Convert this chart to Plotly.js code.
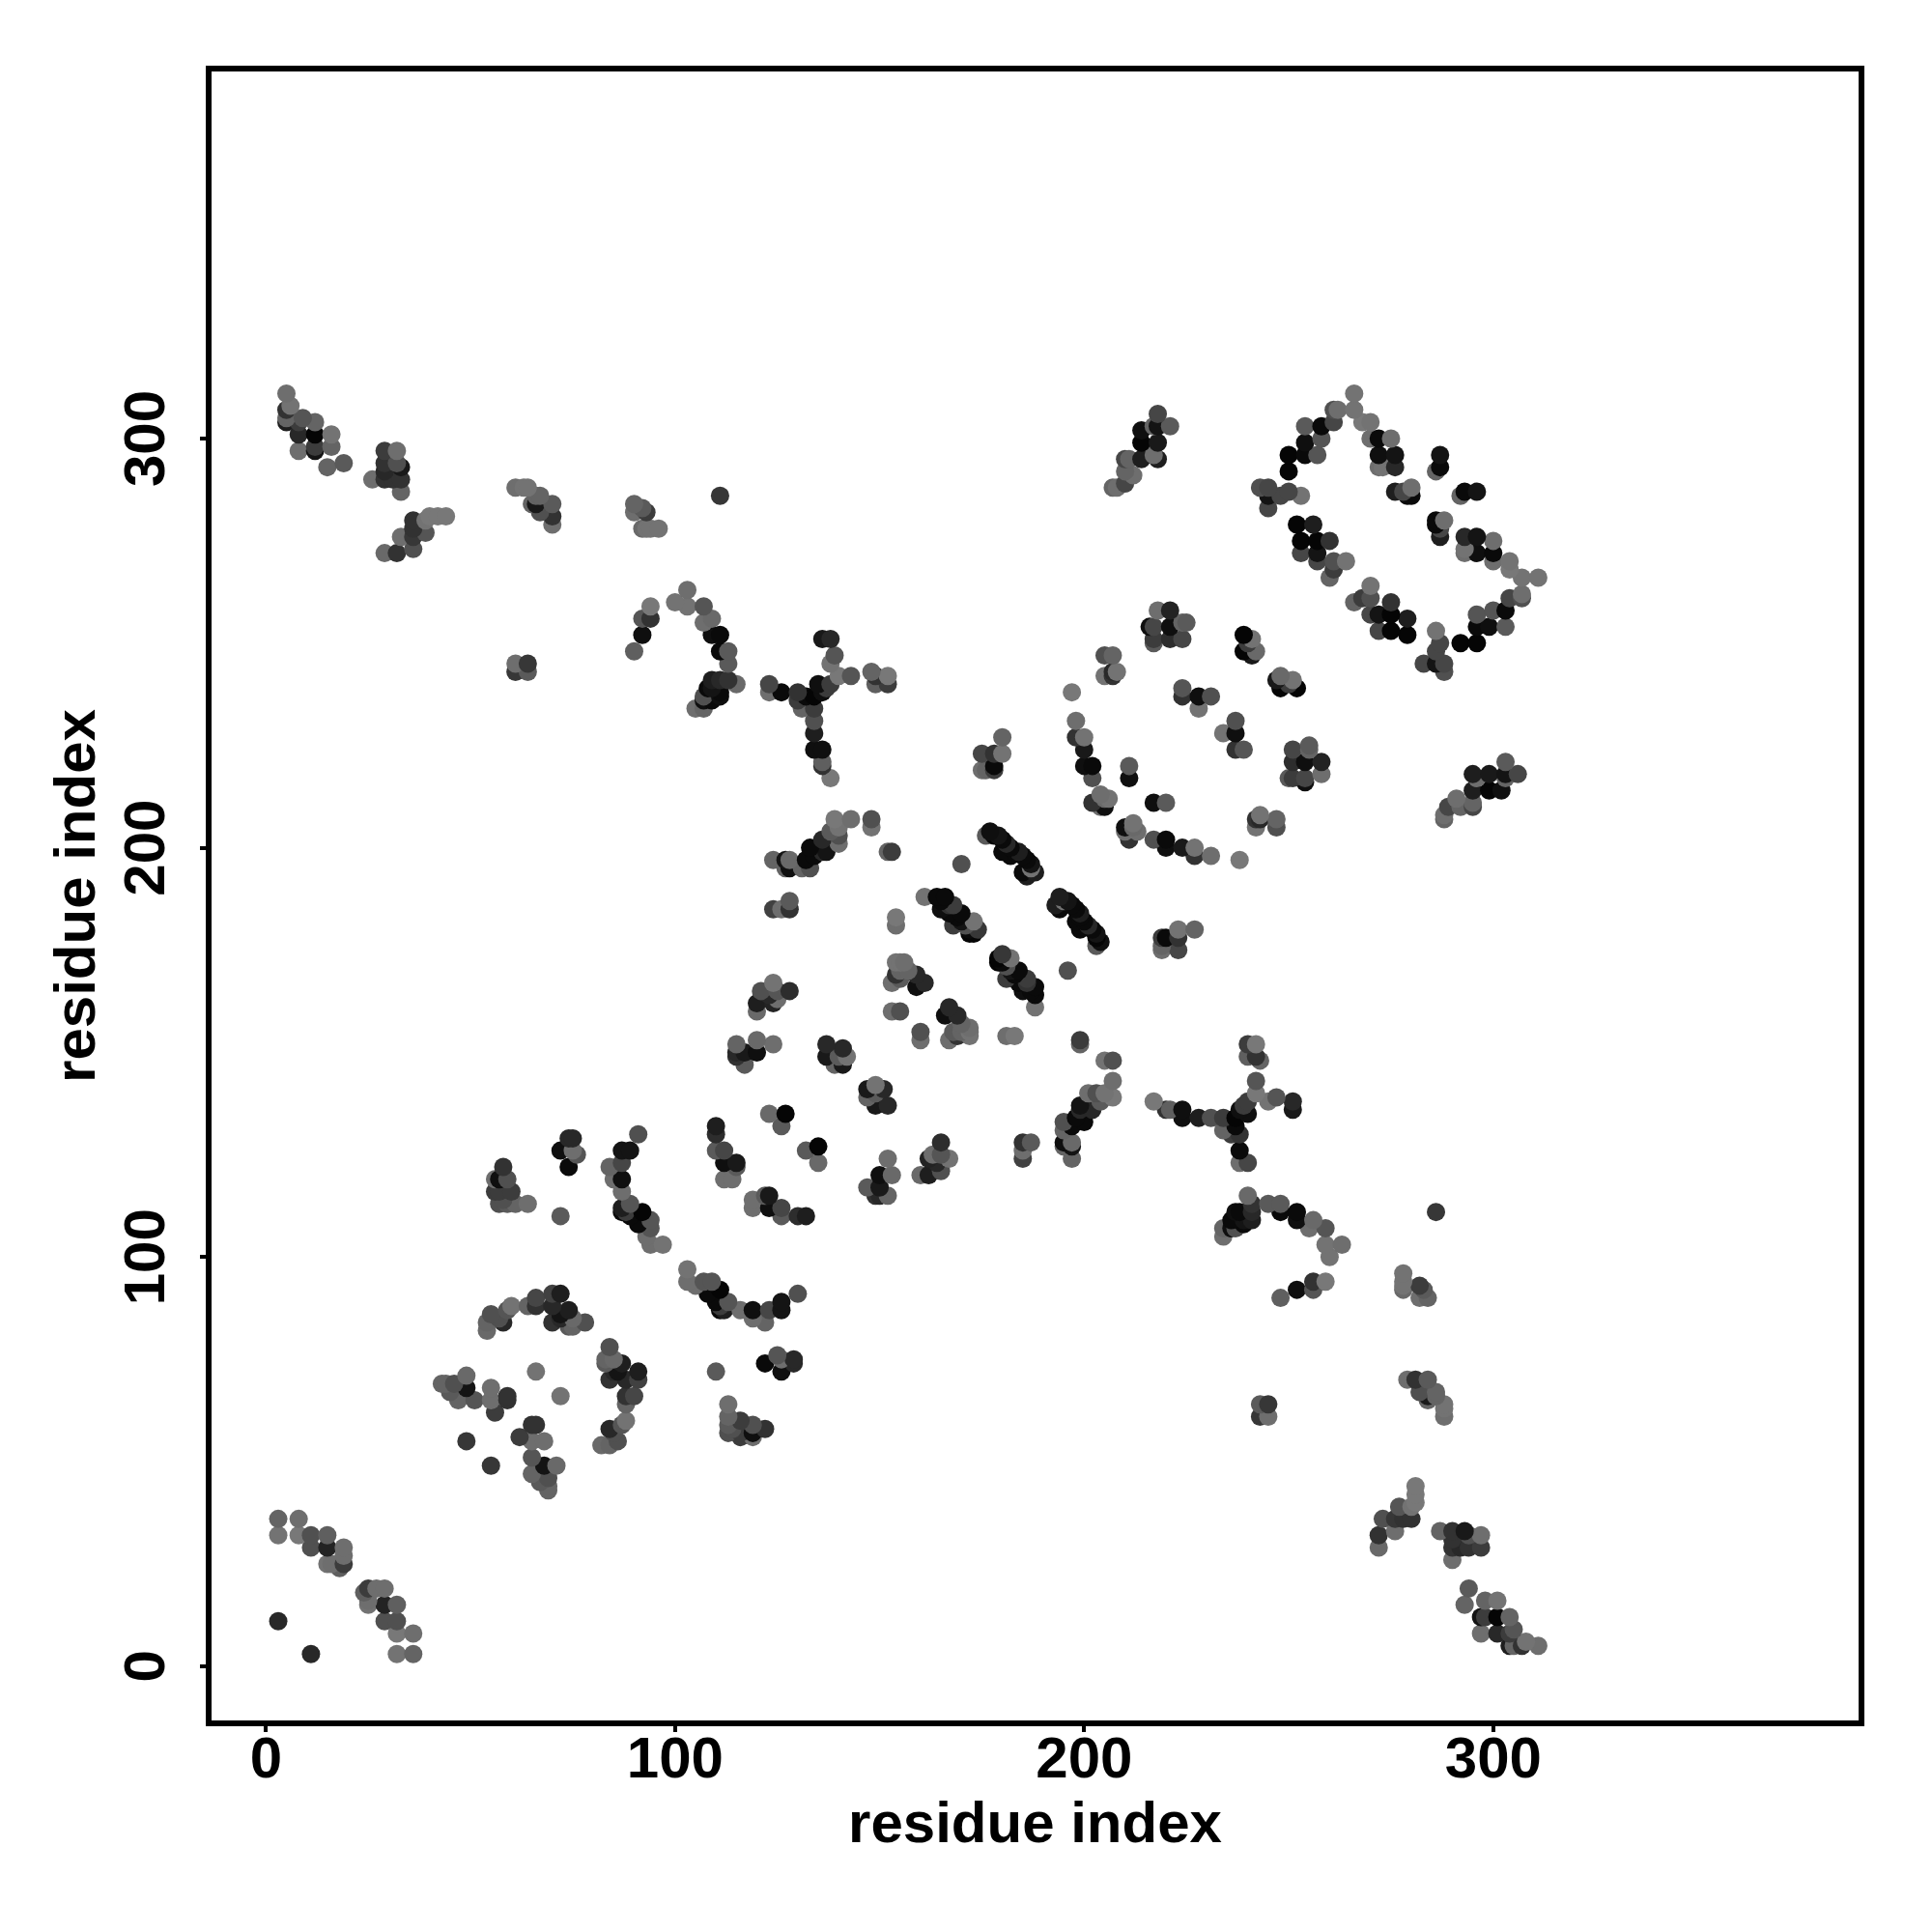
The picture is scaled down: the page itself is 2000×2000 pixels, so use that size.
<!DOCTYPE html>
<html><head><meta charset="utf-8">
<script src="https://cdn.plot.ly/plotly-3.0.1.min.js"></script>
<style>html,body{margin:0;padding:0;background:#fff}#c{width:2000px;height:2000px}</style>
</head><body><div id="c"></div>
<script>
// Symmetric contact map: each contact is read once as [i, j, grey], i < j, and drawn at (i,j) and (j,i).
const clusterTermini = [[3,36,100],[8,36,110],[3,32,115],[8,32,120],[11,32,80],[11,29,80],[15,32,95],[15,29,35],[19,29,110],[16,25,110],[15,25,115],[19,27,110],[18,24,95],[19,25,60],[3,11,40]];
const clusterA = [[5,311,110],[5,307,50],[5,304,30],[5,305,100],[6,308,115],[9,305,85],[8,304,60],[12,304,100],[8,301,40],[12,301,5],[8,297,110],[12,298,60],[12,297,20],[16,301,115],[16,298,100],[15,293,100],[19,294,90]];
const clusterB = [[29,297,60],[32,297,110],[29,294,50],[29,292,40],[29,290,50],[26,290,110],[32,294,80],[33,293,25],[31,290,50],[33,290,50],[33,287,100]];
const clusterC = [[29,272,105],[32,272,50],[33,276,110],[36,280,50],[36,278,50],[36,276,55],[36,273,80],[39,277,85],[39,280,115],[40,281,120],[42,281,120],[44,281,120]];
const clusterD = [[61,288,110],[63,288,115],[64,288,115],[65,284,100],[66,284,25],[66,286,100],[67,286,100],[67,282,80],[70,281,50],[70,284,90],[70,279,110]];
const clusterE = [[90,284,100],[90,282,110],[92,283,90],[93,282,60],[92,278,105],[93,278,115],[94,278,115],[96,278,115],[111,286,55],[61,245,110],[61,243,55],[64,243,90],[64,245,55]];
const arcF = [[94,259,120],[92,256,85],[94,256,50],[92,252,15],[90,248,95],[100,260,115],[103,263,110],[103,259,115],[107,259,85],[107,255,110],[109,256,105],[109,252,15],[111,252,10],[111,248,10],[113,248,90],[113,245,90],[113,241,50],[111,241,40],[109,241,30],[108,239,10],[109,239,20],[111,238,10],[111,237,15],[109,236,10],[107,236,15],[107,237,80],[105,234,110],[107,234,100],[115,240,105]];
const tShape = [[136,251,25],[138,251,40],[139,247,85],[138,245,115],[138,240,60],[140,242,120],[143,242,85],[148,243,100],[149,242,50],[152,242,120],[149,240,95],[152,240,60],[123,240,70],[123,238,110],[126,238,10],[130,238,50],[130,236,60],[132,237,10],[134,237,5],[136,238,15],[135,240,15],[137,239,60],[131,234,100],[134,234,60],[134,231,80],[134,228,30],[134,224,15],[136,224,15],[136,220,50],[136,221,95],[138,217,120]];
const clusterG = [[124,197,100],[127,195,100],[127,197,20],[128,195,15],[128,197,105],[131,195,100],[133,195,80],[132,197,10],[134,198,10],[133,200,10],[136,199,40],[136,202,40],[137,199,20],[138,204,90],[140,203,80],[140,201,110],[140,205,115],[139,207,120],[143,207,110],[148,205,115],[148,207,80],[152,199,100],[153,199,60],[124,185,65],[126,185,110],[128,185,50],[128,187,90],[154,183,120],[154,181,110],[170,196,80],[161,188,115]];
const barA = [[176,203,90],[177,204,15],[178,203,5],[179,203,20],[180,202,10],[181,201,40],[180,199,10],[182,200,10],[182,198,10],[183,199,10],[184,199,30],[185,198,10],[185,194,10],[186,197,10],[186,193,30],[187,196,20],[188,194,30],[187,195,115]];
const barB = [[164,188,10],[165,187,10],[166,188,10],[165,185,15],[167,184,10],[167,186,50],[168,186,60],[169,183,10],[170,184,10],[170,182,20],[168,181,60],[171,181,80],[172,180,10],[172,179,5],[173,179,5],[173,182,115],[174,180,55]];
const clusterH = [[205,247,80],[207,247,100],[205,242,115],[207,243,40],[207,242,50],[208,243,115],[197,238,120],[198,231,110],[198,227,50],[200,227,115],[200,224,25],[200,220,15],[202,220,10],[202,217,80],[202,211,50],[205,210,15],[204,210,110],[204,213,110],[205,212,105],[206,212,115],[175,223,70],[178,223,50],[180,223,115],[180,227,100],[175,219,110],[176,219,100],[178,219,60],[178,220,10]];
const clusterI = [[218,306,70],[217,303,100],[218,303,20],[221,303,90],[214,302,15],[214,299,5],[218,299,25],[214,295,30],[218,295,30],[217,296,110],[210,295,70],[211,295,100],[210,292,100],[212,291,110],[210,289,70],[207,288,100],[208,288,110]];
const ringOuter = [[266,311,115],[266,307,115],[261,307,80],[262,307,110],[261,304,70],[258,303,10],[254,303,90],[258,300,85],[254,299,15],[257,296,85],[254,296,10],[250,296,5],[250,292,5],[268,304,120],[270,304,115],[270,300,110],[272,300,10],[275,300,110],[272,296,15],[276,296,20],[272,293,110],[273,293,115],[276,293,40],[287,296,20],[286,292,100],[287,293,10],[243,288,80],[245,288,70],[245,286,20],[245,283,70],[248,286,70],[250,287,70],[253,286,115],[276,287,30],[278,287,70],[279,286,10],[280,286,10],[280,288,110]];
const ringInner = [[252,279,5],[256,279,30],[253,275,5],[257,275,5],[260,275,50],[253,272,70],[257,272,20],[257,270,70],[261,270,80],[264,270,115],[261,268,60],[260,266,100]];
const clusterJ = [[218,258,110],[221,258,35],[216,254,15],[217,254,70],[221,254,15],[224,255,100],[225,255,90],[224,251,70],[221,251,45],[217,250,90],[217,251,60],[239,252,5],[241,251,115],[240,250,60],[239,248,5],[241,247,25],[242,248,105],[224,239,85],[224,237,50],[228,237,15],[231,237,80],[228,234,115],[211,220,90],[211,217,15]];
const clusterK = [[121,165,80],[124,167,115],[125,165,85],[128,165,45],[123,164,40],[125,163,110],[120,162,30],[124,162,35],[120,160,105],[115,152,100],[120,153,105],[124,152,110],[115,150,40],[115,149,50],[117,150,25],[120,150,15],[117,147,90],[137,152,40],[137,149,25],[141,151,40],[139,147,100],[141,147,25],[140,149,90],[142,149,115]];
const clusterL = [[154,172,115],[155,172,115],[156,172,110],[154,169,50],[153,167,110],[155,170,100],[157,170,100],[155,168,90],[159,169,40],[159,166,15],[161,167,40],[153,160,110],[155,160,80],[123,135,105],[127,135,5],[126,132,90],[110,132,30],[110,130,45],[110,126,90],[112,126,70],[112,123,15],[115,123,25],[115,122,90],[112,119,110],[114,119,110]];
const clusterM = [[58,122,50],[59,119,80],[57,119,15],[56,119,110],[60,116,60],[57,116,60],[56,116,60],[58,114,80],[57,113,80],[59,113,90],[61,113,100],[64,113,110],[75,129,40],[74,129,40],[72,126,15],[75,126,110],[76,125,85],[74,122,10],[72,110,90]];
const arcN = [[91,130,80],[87,126,20],[89,126,20],[84,122,100],[87,123,70],[87,119,15],[85,119,110],[87,116,110],[87,112,30],[89,113,85],[87,111,10],[88,111,60],[89,110,10],[91,108,10],[92,111,5],[93,105,110],[94,109,85],[94,107,85],[94,103,110],[97,103,115]];
const ringO = [[54,82,105],[54,84,100],[55,86,80],[58,84,40],[57,85,80],[59,87,85],[60,88,115],[64,88,100],[66,88,50],[66,90,70],[70,91,65],[72,91,30],[70,88,40],[74,87,30],[72,86,20],[72,85,40],[70,84,50],[74,83,90],[75,83,100],[75,85,105],[78,84,80],[66,72,115]];
const clusterP = [[43,69,100],[44,69,100],[46,69,80],[49,71,105],[49,68,20],[45,67,90],[47,65,100],[51,65,85],[55,68,110],[55,65,110],[59,66,50],[59,65,50],[56,62,60],[49,55,55]];

const contacts = [clusterTermini,clusterA,clusterB,clusterC,clusterD,clusterE,arcF,tShape,clusterG,barA,barB,clusterH,clusterI,ringOuter,ringInner,clusterJ,clusterK,clusterL,clusterM,arcN,ringO,clusterP].flat();
// both triangles, painted in order of rising y then x
const pts = contacts.flatMap(c=>[[c[0],c[1],c[2]],[c[1],c[0],c[2]]]).sort((p,q)=>p[1]-q[1]||p[0]-q[0]);
const xs = pts.map(p=>p[0]);
const ys = pts.map(p=>p[1]);
const greys = pts.map(p=>`rgb(${p[2]},${p[2]},${p[2]})`);

const tickVals = [0,100,200,300];
const font = {family:'"Liberation Sans",Arial,sans-serif',size:60,color:'#000',weight:'bold'};
const axis = {tickvals:tickVals,ticktext:tickVals.map(String),ticks:'outside',ticklen:6,tickwidth:4,tickcolor:'#000',
  showgrid:false,zeroline:false,showline:true,linecolor:'#000',linewidth:6,mirror:true,tickfont:{...font}};
Plotly.newPlot('c',[{type:'scatter',mode:'markers',x:xs,y:ys,marker:{size:19,color:greys,line:{width:0}},hoverinfo:'skip'}],{
  width:2000,height:2000,paper_bgcolor:'#fff',plot_bgcolor:'#fff',showlegend:false,
  font:font,
  margin:{l:219,r:76,t:74.4,b:219.2,pad:0},
  xaxis:{...axis,range:[-13.3,389.3],ticklabelstandoff:-25,title:{text:'residue index',font:{...font},standoff:8}},
  yaxis:{...axis,range:[-13.25,389.7],tickangle:-90,ticklabelstandoff:13,ticklabelshift:9,title:{text:'residue index',font:{...font},standoff:0}}
},{displayModeBar:false,staticPlot:true});
</script></body></html>
